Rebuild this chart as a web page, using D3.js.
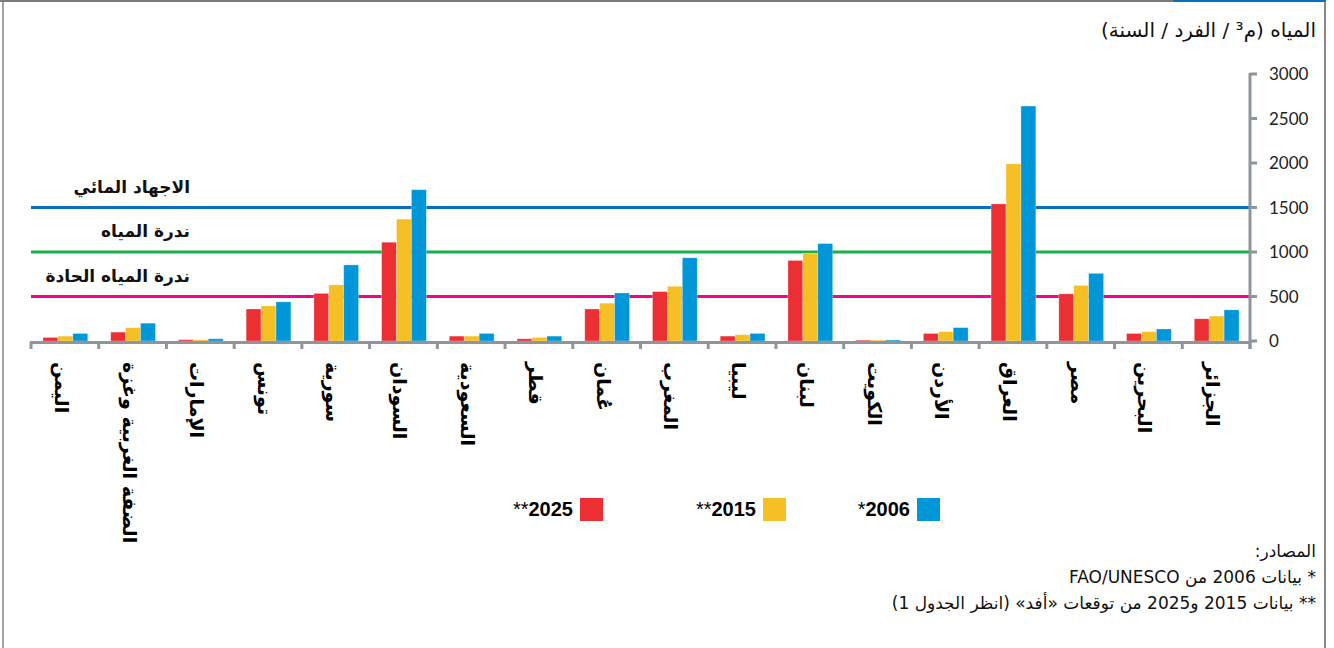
<!DOCTYPE html>
<html>
<head>
<meta charset="utf-8">
<script src="https://cdn.jsdelivr.net/npm/d3@7"></script>
<style>
  body { margin: 0; background: #fff; }
  svg { display: block; }
</style>
</head>
<body>
<svg id="chart" width="1334" height="648"></svg>
<script>
// categories listed right to left, as in the original
var categories = ["الجزائر", "البحرين", "مصر", "العراق", "الأردن", "الكويت", "لبنان", "ليبيا", "المغرب",
  "عُمان", "قطر", "السعودية", "السودان", "سورية", "تونس", "الإمارات", "الضفة الغربية وغزة", "اليمن"];
var values2025 = [250, 85, 530, 1540, 85, 10, 905, 55, 555, 360, 25, 55, 1110, 535, 360, 15, 100, 40];
var values2015 = [280, 105, 625, 1990, 105, 10, 985, 70, 615, 425, 40, 55, 1370, 630, 395, 15, 150, 55];
var values2006 = [350, 135, 760, 2640, 150, 12, 1095, 85, 935, 540, 55, 85, 1700, 855, 440, 25, 200, 85];
var seriesNames = ["2025", "2015", "2006"];
var seriesStars = ["**", "**", "*"];
var seriesColors = ["#ec2f33", "#f5c026", "#0096d7"];
var yTicks = [0, 500, 1000, 1500, 2000, 2500, 3000];
var thresholds = [1500, 1000, 500];
var thresholdLabels = ["الاجهاد المائي", "ندرة المياه", "ندرة المياه الحادة"];
var thresholdColors = ["#0a6fbf", "#1aaf4b", "#ee078d"];

var svg = d3.select("#chart");
var axisGrey = "#8f959b";
var arabicFont = "'DejaVu Sans', sans-serif";

//frame round the figure
svg.append("rect").attr("x", 2).attr("y", 0).attr("width", 2).attr("height", 648).attr("fill", "#a3a3a3");
svg.append("rect").attr("x", 1324).attr("y", 0).attr("width", 2).attr("height", 648).attr("fill", "#8a8a8a");
svg.append("rect").attr("x", 0).attr("y", 0).attr("width", 1173).attr("height", 2).attr("fill", "#7b7b7b");
svg.append("rect").attr("x", 1173).attr("y", 0).attr("width", 153).attr("height", 2).attr("fill", "#0a6fbf");

//scales
var x = d3.scaleBand().domain(categories).range([1250, 31]);
var xInner = d3.scaleBand().domain(seriesNames).range([12, x.bandwidth() - 11]);
var y = d3.scaleLinear().domain([0, 3000]).range([341, 74]);

//title
svg.append("text")
    .attr("x", 1316).attr("y", 37)
    .attr("direction", "rtl").attr("text-anchor", "start")
    .style("font-family", arabicFont).style("font-size", "20px").style("fill", "#111")
    .text("المياه (م³ / الفرد / السنة)");

//threshold lines (behind the bars)
thresholds.forEach(function (t, i) {
  svg.append("line")
      .attr("x1", 31).attr("x2", 1250)
      .attr("y1", y(t)).attr("y2", y(t))
      .attr("stroke", thresholdColors[i]).attr("stroke-width", 3);
});

//bars
var rows = categories.map(function (c, i) {
  return { name: c, vals: [values2025[i], values2015[i], values2006[i]] };
});
var group = svg.selectAll(".grp")
  .data(rows)
  .enter().append("g")
    .attr("class", "grp")
    .attr("transform", function (d) { return "translate(" + x(d.name) + ",0)"; });

group.selectAll("rect")
  .data(function (d) { return d.vals; })
  .enter().append("rect")
    .attr("x", function (d, i) { return xInner(seriesNames[i]); })
    .attr("width", xInner.bandwidth())
    .attr("y", function (d) { return y(d); })
    .attr("height", function (d) { return y(0) - y(d); })
    .attr("fill", function (d, i) { return seriesColors[i]; })
    .attr("stroke", "rgba(255,255,255,0.35)").attr("stroke-width", 0.8);

//threshold labels
thresholds.forEach(function (t, i) {
  svg.append("text")
      .attr("x", 190).attr("y", y(t) - 15)
      .attr("direction", "rtl").attr("text-anchor", "start")
      .style("font-family", arabicFont).style("font-size", "17px").style("font-weight", "bold")
      .style("fill", "#111")
      .text(thresholdLabels[i]);
});

//x axis
svg.append("line")
    .attr("x1", 30).attr("x2", 1251).attr("y1", 342.5).attr("y2", 342.5)
    .attr("stroke", axisGrey).attr("stroke-width", 3);
var bounds = categories.map(function (c) { return x(c); }).concat([1250]);
svg.selectAll(".xtick")
  .data(bounds)
  .enter().append("line")
    .attr("class", "xtick")
    .attr("x1", function (d) { return d; }).attr("x2", function (d) { return d; })
    .attr("y1", 342).attr("y2", 349)
    .attr("stroke", axisGrey).attr("stroke-width", 3);

//category labels, turned on their side
svg.selectAll(".xlab")
  .data(categories)
  .enter().append("text")
    .attr("class", "xlab")
    .attr("transform", function (d) { return "translate(" + (x(d) + x.bandwidth() / 2 - 10) + ",362) rotate(90)"; })
    .attr("text-anchor", "start")
    .style("font-family", arabicFont).style("font-size", "19px").style("font-weight", "bold")
    .style("fill", "#000")
    .text(function (d) { return d; });

//y axis on the right
svg.append("line")
    .attr("x1", 1250).attr("x2", 1250).attr("y1", 73).attr("y2", 349)
    .attr("stroke", axisGrey).attr("stroke-width", 3);
svg.selectAll(".ytick")
  .data(yTicks)
  .enter().append("line")
    .attr("class", "ytick")
    .attr("x1", 1250).attr("x2", 1257)
    .attr("y1", function (d) { return y(d); }).attr("y2", function (d) { return y(d); })
    .attr("stroke", axisGrey).attr("stroke-width", 3);
svg.selectAll(".ylab")
  .data(yTicks)
  .enter().append("text")
    .attr("class", "ylab")
    .attr("x", 1269).attr("y", function (d) { return y(d) + 6; })
    .style("font-family", "Lato, sans-serif").style("font-size", "17px").style("fill", "#222")
    .text(function (d) { return d; });

//legend
var legendX = [580, 763, 917];
seriesNames.forEach(function (s, i) {
  svg.append("rect")
      .attr("x", legendX[i]).attr("y", 498).attr("width", 23).attr("height", 23)
      .attr("fill", seriesColors[i]);
  var t = svg.append("text")
      .attr("x", legendX[i] - 7).attr("y", 516)
      .attr("text-anchor", "end")
      .style("font-family", "'Liberation Sans', Arial, sans-serif").style("font-size", "20px")
      .style("fill", "#000");
  t.append("tspan").style("font-weight", "normal").text(seriesStars[i]);
  t.append("tspan").style("font-weight", "bold").text(s);
});

//sources
var sourceLines = ["المصادر:", "* بيانات 2006 من FAO/UNESCO", "** بيانات 2015 و2025 من توقعات «أفد» (انظر الجدول 1)"];
svg.selectAll(".src")
  .data(sourceLines)
  .enter().append("text")
    .attr("class", "src")
    .attr("x", 1316).attr("y", function (d, i) { return 557 + i * 26; })
    .attr("direction", "rtl").attr("text-anchor", "start")
    .style("font-family", arabicFont).style("font-size", "17px").style("fill", "#111")
    .text(function (d) { return d; });
</script>
</body>
</html>
